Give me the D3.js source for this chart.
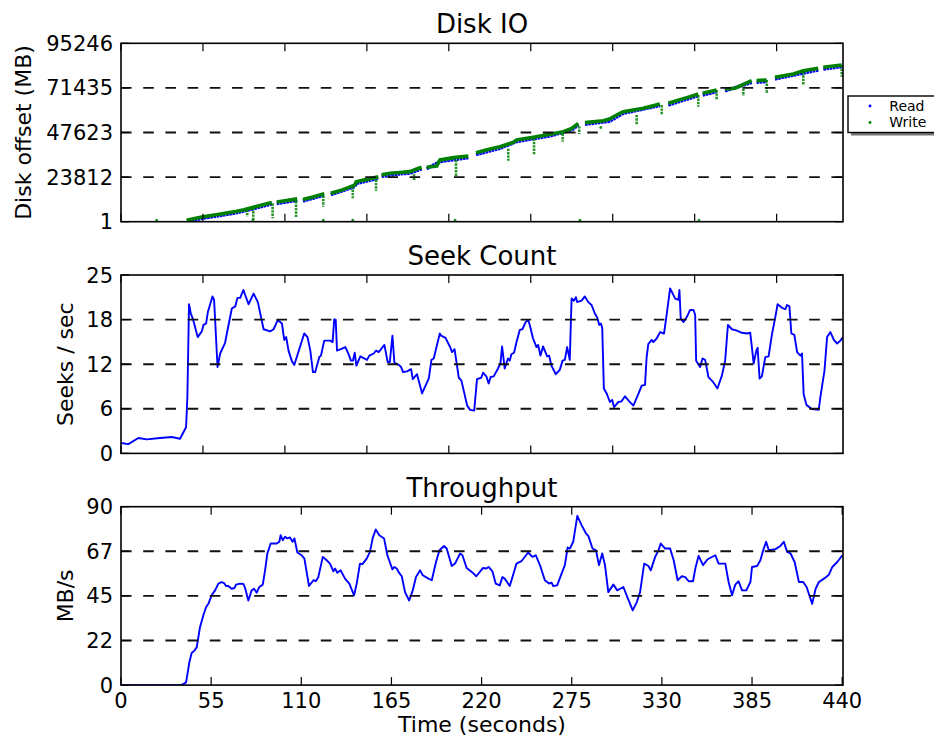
<!DOCTYPE html>
<html><head><meta charset="utf-8">
<script src="https://cdn.jsdelivr.net/npm/d3@7"></script>
<style>body{margin:0;background:#fff}svg{display:block;font-family:"DejaVu Sans",sans-serif}</style>
</head><body><svg id="c" width="934" height="737"></svg>
<script>
// ---------------- DATA ----------------
const timeMax = 440.5;
const topTimeTicks = [0, 50, 100, 150, 200, 250, 300, 350, 400];
const bottomTimeTicks = [0, 55, 110, 165, 220, 275, 330, 385, 440];
const bottomTimeLabels = ["0", "55", "110", "165", "220", "275", "330", "385", "440"];

const diskTicks = [1, 23812, 47623, 71435, 95246];
const diskTickLabels = ["1", "23812", "47623", "71435", "95246"];
const seekTicks = [0, 6.25, 12.5, 18.75, 25];
const seekTickLabels = ["0", "6", "12", "18", "25"];
const tputTicks = [0, 22.5, 45, 67.5, 90];
const tputTickLabels = ["0", "22", "45", "67", "90"];

const titles = ["Disk IO", "Seek Count", "Throughput"];
const yLabels = ["Disk offset (MB)", "Seeks / sec", "MB/s"];
const xLabel = "Time (seconds)";
const legendLabels = ["Read", "Write"];

// Disk IO write runs: [time s, offset MB]
const writeRuns = [
  [[40,800],[45,1700],[50,2600],[55,3300],[60,4000],[65,4700],[70,5500],[75,6400],[80.7,7700],[86,8900],[92,10300]],
  [[95,10500],[101,11300],[107.5,12200]],
  [[111,11800],[117,13200],[124,15000]],
  [[128,15200],[135,17000],[142.5,19500],[143.5,21300],[150,22600],[157,24000]],
  [[159,25000],[164,25840],[170,26300],[176.3,26730],[180,28000],[183.4,29040]],
  [[186.5,29040],[192.6,29750],[194.6,32950],[203,34200],[211.9,35080]],
  [[216.6,36860],[224,38500],[231.2,40070],[239.4,42380],[241.4,43630],[251.6,45050],[261.7,46650],[269.9,48070],[275,49850],[279,52520]],
  [[283.1,52880],[294.3,53940],[298,54800],[301,56300],[304.4,57860],[306.5,58750],[318.7,60530],[328.8,62850]],
  [[333.9,63210],[340,64800],[347.2,66770],[352.2,68190]],
  [[354.9,68550],[363.4,70330]],
  [[368.5,70860],[374.6,71220],[379.7,73350],[384.8,75310]],
  [[387.8,75310],[393.9,75660]],
  [[399,77090],[410.2,78870],[416.3,80650],[425.4,81890]],
  [[428.5,82430],[439.7,83670]]
];
// Disk IO read runs: [time s, offset MB]
const readRuns = [
  [[41,300],[50,1900],[60,3200],[70,4700],[80.7,6900],[92,9500]],
  [[95,9700],[107.5,11400]],
  [[111,11000],[124,14200]],
  [[128,14400],[142.5,18700],[143.5,20400],[157,23200]],
  [[159,24200],[170,25500],[176.3,25900],[183.4,28200]],
  [[186.5,28200],[194.6,32100],[211.9,34200]],
  [[216.6,35800],[231.2,39200],[241.4,42800],[261.7,45800],[275,49000],[279,51700]],
  [[283.1,52000],[298,53600],[306.5,57900],[328.8,62000]],
  [[333.9,62300],[352.2,67300]],
  [[354.9,67600],[363.4,69400]],
  [[368.5,69800],[384.8,74400]],
  [[387.8,74400],[393.9,74800]],
  [[399,76200],[425.4,81000]],
  [[428.5,81500],[439.7,82800]]
];
// vertical clusters of writes: [time, top offset, bottom offset]
const writeDrops = [
  [77,6500,2800],[80.7,7500,1200],[92.5,9800,1800],[106.8,11000,2300],[123.4,14000,8000],[141.4,19000,12500],
  [155.6,22500,16400],[178.8,25300,22300],[204.4,33000,24000],[236.3,39000,32500],[252,44500,36000],
  [269.5,47000,42700],[279.6,51000,46800],[314.6,57000,51500],[329.9,62300,57000],[352.2,67600,61400],
  [363.4,70300,65300],[379.7,71000,67100],[394,75600,68500],[416.3,80000,73000],[439.7,83600,77400]
];
// isolated writes: [time, offset]
const strayWrites = [[21.8,1],[80.5,1],[123.4,1],[141.4,1],[203.8,1],[280,1],[352.6,1],[292.7,49500]];

// Seek count: [time s, seeks/sec]
const seekData = [[0,1.45],[4.5,1.3],[10.6,2.16],[15.7,1.97],[23.8,2.16],[31,2.3],[36,2.06],[39.7,3.66],[40.5,7.9],[41.5,20.9],[42.6,19.6],[43.8,18.9],[46.8,16.3],[49.3,17.1],[50.3,18],[51.9,18.2],[53,19.8],[55.8,22],[56.8,21.5],[58.9,12.1],[60.5,14],[63.5,15.5],[64.6,16.8],[67.6,20.3],[69.7,20.6],[71.1,21.8],[72.7,21.8],[74.7,22.9],[77.8,20.9],[80.9,22.4],[83.5,21.2],[87,17.4],[91,17.1],[93.1,17.4],[95.7,18.7],[98.2,18.2],[99.6,15.9],[100.8,16.3],[102.2,14.4],[104.3,12.9],[105.7,12.4],[111.8,16.8],[113.8,16.3],[115.5,14.4],[117.1,11.4],[118.5,11.4],[121,13.5],[122,13.7],[124,15.8],[127.7,15.8],[129.1,15.6],[130.1,18.8],[131,18.7],[131.8,14.4],[134.2,14.6],[136.9,14.9],[138.5,14.1],[140.3,13],[141.5,13],[142.6,14.1],[143.6,12.3],[146,13.6],[150.1,13.1],[151.5,13.7],[154.2,14],[155.6,14.4],[157.2,14.2],[160.7,15.2],[162.7,12.8],[164,12.8],[165.6,16.5],[166.8,12.7],[169.5,12.4],[170.9,12.1],[172.1,11.4],[174.5,11.5],[177,11.8],[178,10.4],[180.6,11.1],[183.7,8.4],[187.8,10.5],[189.4,13.1],[190.8,13.3],[194.5,16.8],[195.3,16.5],[198,16.2],[201,14.8],[202,14.2],[203.5,14.6],[206.1,10.6],[207.7,10.2],[211.2,6.7],[213,6.1],[215.5,6.0],[217.2,10.4],[219.8,10.6],[220.9,11.3],[222.9,10.8],[224.3,9.8],[225.5,10.7],[227.4,10.8],[230,11.9],[231.5,12.6],[232.5,15],[234.1,11.9],[236.1,13.3],[237.2,13],[238.2,13.9],[239.8,14.1],[241.2,15.5],[243.3,17.3],[244.9,17.4],[246.9,18.4],[248.4,18.7],[249.4,18],[251.4,16.1],[253.5,14.9],[254.5,15.2],[255.9,13.7],[257.5,15],[260,13.6],[261.2,13.7],[262.6,12.3],[265.3,11.1],[267.7,11.7],[269.4,13],[270.8,13.1],[272.2,14.9],[273.8,13.1],[274.9,21.7],[276.3,21.4],[277.5,21.9],[278.3,21.2],[281,21.4],[283,22],[285.1,21.2],[287.1,20.8],[289.1,19.6],[290.6,19],[291.8,18],[292.8,18.2],[293.6,17.6],[294.6,9.1],[296.3,8.4],[298.3,7.2],[299.7,7.5],[300.8,6.5],[303.4,7.2],[305.4,7.3],[307.5,8],[310.1,7.3],[312.6,6.7],[315.6,8.3],[317.7,9.5],[319.7,9.6],[320.7,13.5],[321.7,15.3],[323.8,15.9],[324.8,15.6],[326.8,16.1],[328.9,17],[331.3,16.8],[333,19.6],[335,23.1],[336.6,22.4],[338.1,21.7],[340.1,21.5],[340.7,22.9],[341.5,18.9],[343.2,18.4],[345.2,19.1],[347.2,20.1],[349.3,20.1],[350.3,19.4],[350.9,13],[353.3,12.1],[354.8,13.3],[356.4,13.1],[358.4,10.7],[360.9,10.1],[363.9,9.1],[366.6,10.9],[368.6,13],[370.3,18],[372.7,17.4],[375.8,17.2],[378.8,16.9],[381.9,16.8],[383.9,16.9],[384.9,14.9],[386,12.6],[387.6,14.4],[388.4,14.8],[389.6,10.5],[391,10.8],[393.1,13.5],[395.1,13.6],[397.1,16.6],[399.2,19.1],[400.6,20.9],[403.3,20.4],[405.3,20.2],[406.3,20.8],[407.8,20.6],[409,16.8],[410.8,16.6],[412.5,14.2],[414.5,13.7],[415.5,14],[416.5,8.3],[418.2,6.8],[421.6,6.2],[425.7,6.1],[426.7,7.9],[429.2,11.6],[430.8,16.3],[432.8,17],[434.9,15.9],[436.9,15.4],[438.9,15.8],[440.5,16.3]];

// Throughput: [time s, MB/s]
const tputData = [[0,0],[36,0],[38,0.5],[39.7,1.4],[41.7,11.5],[43.1,16.2],[44.8,17.4],[46.2,19.1],[48.2,29.2],[50.2,35.1],[51.9,39.3],[53.3,41],[55.3,45.3],[57.4,47.8],[59.4,51.2],[61.4,52],[62.9,51.5],[64.1,50],[65.5,50],[67.5,48.6],[69.2,49],[70.2,50.7],[72.6,51.2],[74.7,51],[75.7,49],[77.7,42.7],[79.7,47.8],[81.2,48.6],[82.8,46.6],[84.4,49.5],[86.5,50.7],[87.9,57.9],[89.3,66.4],[91.3,71.4],[95,71.4],[96.6,72.3],[97.4,75.6],[98.7,73.1],[100.1,74.8],[101.5,74],[103.1,74.5],[104.7,72.3],[105.8,74],[107.6,66.9],[110.2,65.5],[111.9,63.8],[114.7,50],[117.4,52.9],[119,52.5],[120.4,54.5],[123.1,64.7],[125.5,63],[127.5,61.3],[129.6,57.4],[130.6,58.8],[132,56.7],[134,57.9],[136.7,53.7],[139.3,51.2],[142.2,45.3],[143.8,51.2],[145.8,61.3],[147.3,61],[149.9,63.8],[151.9,67.2],[153.6,74.3],[155.4,78.5],[157.6,75.6],[160.5,74],[162.5,65.5],[165.6,58.4],[166.8,59.6],[168.2,58.8],[169.6,56.7],[171.3,54.9],[173.3,46.9],[175.8,42.7],[178,47.8],[180,54.5],[182.5,57.9],[184.1,55.4],[187.6,53.7],[189.6,52.9],[192.2,62.1],[194.3,68],[197.1,70.2],[198.7,68.9],[201.8,60.1],[203.8,61.3],[206.9,66.4],[208.3,65.5],[210.9,59.1],[214,57.1],[216.8,54.9],[220.9,59.1],[222.9,58.8],[224.3,59.6],[226.6,57.4],[228.6,51.2],[231.1,50.3],[232.7,54.5],[234.1,53.7],[237.2,50],[241.3,61.3],[244.3,62.5],[248.4,66.9],[251,64.7],[253.1,65.5],[256,59.6],[258.6,52.9],[261.2,51.2],[262.7,51.7],[263.7,50],[266.1,50.3],[268.8,56.2],[270.8,60.5],[272.5,69.4],[273.9,68.9],[275.9,72.3],[278.4,85.4],[281,80.7],[283.7,76.5],[285.1,75.3],[287.7,68.9],[289.8,68],[291.6,60.5],[293.6,66.4],[295.3,60.5],[297.3,46.9],[300.4,50.7],[302.8,47.8],[306.5,49.5],[308.5,45.3],[312.2,37.7],[314.7,41.9],[316.7,46.9],[319.2,61.3],[321.8,60.1],[323.2,57.9],[325.9,64.7],[327.9,68],[329.3,71.4],[332,68.9],[335,68.9],[337.2,63],[339.6,52.9],[342.2,54.9],[344.3,54.5],[346.3,52.4],[349,52.4],[350.4,58.8],[352.4,65.2],[355.1,60.5],[357.9,63.5],[362.6,65.5],[364.6,61.3],[368.7,61.3],[370.7,52],[372.8,45.3],[374.8,50.7],[376.8,52.4],[378.9,47.8],[381.5,47.8],[384,52],[385,59.6],[388.1,60.1],[390.1,63],[391.8,68],[393.6,72.3],[395.2,68],[399.3,68.6],[402.3,70.2],[404.4,72.3],[406.4,67.2],[408.5,66.4],[411,62.1],[413.6,52],[416.2,52],[418.3,49.5],[421.7,41],[423.8,48.6],[425.8,52],[428.9,53.7],[431.9,55.7],[434,59.6],[437,62.1],[440.1,65.5]];

// ---------------- DRAWING ----------------
const svg = d3.select("#c");
svg.append("rect").attr("width", 934).attr("height", 737).attr("fill", "#fff");
const L = 121, R = 843, PH = 178.4;
const tops = [43.3, 275, 506.7];
const x = d3.scaleLinear().domain([0, timeMax]).range([L, R]);
const BLUE = "#0000ff", GREEN = "#008000";

function makePanel(i, yDomain, yTicks, yTickLabels, xTicks, xTickLabels) {
  const top = tops[i], bottom = top + PH;
  const y = d3.scaleLinear().domain(yDomain).range([bottom, top]);
  const clipId = "clip" + i;
  svg.append("clipPath").attr("id", clipId).append("rect")
    .attr("x", L).attr("y", top).attr("width", R - L).attr("height", PH);
  const data = svg.append("g").attr("clip-path", `url(#${clipId})`);
  // gridlines (above data, as in classic matplotlib)
  svg.append("g").selectAll("line").data(yTicks.slice(1, -1)).join("line")
    .attr("x1", L).attr("x2", R).attr("y1", d => y(d)).attr("y2", d => y(d))
    .attr("stroke", "#111").attr("stroke-width", 1.9).attr("stroke-dasharray", "10.6,11.6");
  // spines
  svg.append("rect").attr("x", L).attr("y", top).attr("width", R - L).attr("height", PH)
    .attr("fill", "none").attr("stroke", "#000").attr("stroke-width", 1.6);
  // ticks inward on all four sides
  const tk = svg.append("g").attr("stroke", "#000").attr("stroke-width", 1.2);
  const TL = 8;
  xTicks.forEach(t => {
    const px = x(t);
    tk.append("line").attr("x1", px).attr("x2", px).attr("y1", bottom).attr("y2", bottom - TL);
    tk.append("line").attr("x1", px).attr("x2", px).attr("y1", top).attr("y2", top + TL);
  });
  yTicks.forEach(v => {
    const py = y(v);
    tk.append("line").attr("x1", L).attr("x2", L + TL).attr("y1", py).attr("y2", py);
    tk.append("line").attr("x1", R).attr("x2", R - TL).attr("y1", py).attr("y2", py);
  });
  // y tick labels
  svg.append("g").selectAll("text").data(yTicks).join("text")
    .attr("x", L - 8).attr("y", d => y(d)).attr("dy", "0.36em")
    .attr("text-anchor", "end").attr("font-size", 21).attr("fill", "#000")
    .text((d, k) => yTickLabels[k]);
  // x tick labels
  if (xTickLabels) {
    svg.append("g").selectAll("text").data(xTicks).join("text")
      .attr("x", d => x(d)).attr("y", bottom + 22.7)
      .attr("text-anchor", "middle").attr("font-size", 21).attr("fill", "#000")
      .text((d, k) => xTickLabels[k]);
  }
  // title
  svg.append("text").attr("x", (L + R) / 2).attr("y", top - 10)
    .attr("text-anchor", "middle").attr("font-size", 26).attr("fill", "#000").text(titles[i]);
  return { y, data, top, bottom };
}

// Panel 1: Disk IO
const p1 = makePanel(0, [1, 95246], diskTicks, diskTickLabels, topTimeTicks, null);
const lineDisk = d3.line().x(d => x(d[0])).y(d => p1.y(d[1]));
p1.data.selectAll("path.read").data(readRuns).join("path").attr("class", "read")
  .attr("d", lineDisk).attr("fill", "none").attr("stroke", BLUE).attr("stroke-width", 3.4)
  .attr("stroke-dasharray", "2.6,0.6");
p1.data.selectAll("line.drop").data(writeDrops).join("line").attr("class", "drop")
  .attr("x1", d => x(d[0])).attr("x2", d => x(d[0]))
  .attr("y1", d => p1.y(d[1])).attr("y2", d => p1.y(d[2]))
  .attr("stroke", GREEN).attr("stroke-width", 2.6).attr("stroke-opacity", 0.85)
  .attr("stroke-dasharray", "2.4,1");
p1.data.selectAll("path.write").data(writeRuns).join("path").attr("class", "write")
  .attr("d", lineDisk).attr("fill", "none").attr("stroke", GREEN).attr("stroke-width", 3.6);
p1.data.selectAll("circle.stray").data(strayWrites).join("circle").attr("class", "stray")
  .attr("cx", d => x(d[0])).attr("cy", d => p1.y(d[1]) - 1.5).attr("r", 1.4)
  .attr("fill", GREEN).attr("fill-opacity", 0.85);

// Panel 2: Seek Count
const p2 = makePanel(1, [0, 25], seekTicks, seekTickLabels, topTimeTicks, null);
p2.data.append("path").datum(seekData)
  .attr("d", d3.line().x(d => x(d[0])).y(d => p2.y(d[1])))
  .attr("fill", "none").attr("stroke", BLUE).attr("stroke-width", 1.9).attr("stroke-linejoin", "round");

// Panel 3: Throughput
const p3 = makePanel(2, [0, 90], tputTicks, tputTickLabels, bottomTimeTicks, bottomTimeLabels);
p3.data.append("path").datum(tputData)
  .attr("d", d3.line().x(d => x(d[0])).y(d => p3.y(d[1])))
  .attr("fill", "none").attr("stroke", BLUE).attr("stroke-width", 1.9).attr("stroke-linejoin", "round");

// axis labels
const ylx = [30.5, 73, 73];
[p1, p2, p3].forEach((p, i) => {
  const cy = (p.top + p.bottom) / 2;
  svg.append("text").attr("transform", `translate(${ylx[i]},${cy}) rotate(-90)`)
    .attr("text-anchor", "middle").attr("font-size", 22).attr("fill", "#000").text(yLabels[i]);
});
svg.append("text").attr("x", (L + R) / 2).attr("y", 732).attr("text-anchor", "middle")
  .attr("font-size", 22).attr("fill", "#000").text(xLabel);

// legend
const lg = svg.append("g");
lg.append("rect").attr("x", 851).attr("y", 99).attr("width", 90).attr("height", 36.5).attr("fill", "#777");
lg.append("rect").attr("x", 848).attr("y", 96).attr("width", 90).attr("height", 36.5)
  .attr("fill", "#fff").attr("stroke", "#000").attr("stroke-width", 1.4);
const legColors = [BLUE, GREEN];
legendLabels.forEach((lab, k) => {
  const yy = 106 + k * 16.5;
  lg.append("circle").attr("cx", 870).attr("cy", yy).attr("r", 1.4).attr("fill", legColors[k]);
  lg.append("text").attr("x", 889.3).attr("y", yy + 4.8).attr("font-size", 14).attr("fill", "#000").text(lab);
});
</script></body></html>
